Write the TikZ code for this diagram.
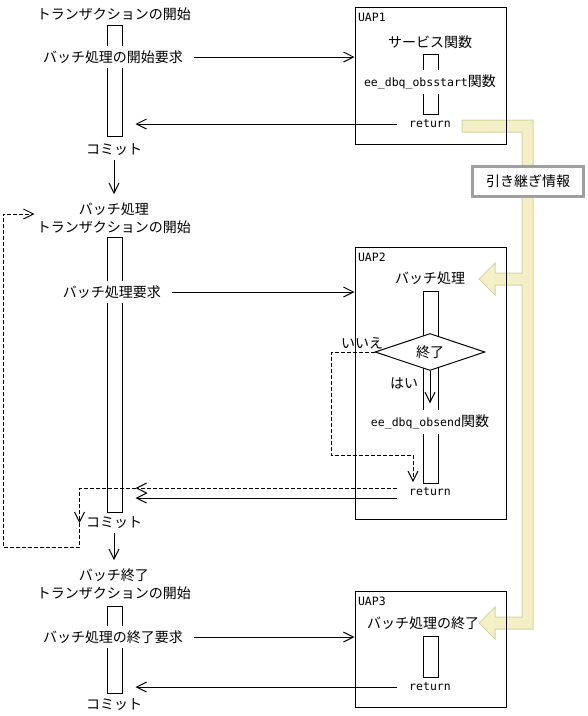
\documentclass[tikz,border=0pt]{standalone}
\usepackage{fontspec}
\setmainfont{Noto Sans CJK JP}
\newfontfamily\codefont{DejaVu Sans Mono}
\newcommand\code[1]{{\codefont\fontsize{11.5}{14}\selectfont #1}}
\usetikzlibrary{arrows.meta,shapes.geometric}
\definecolor{bandfill}{RGB}{242,240,196}
\definecolor{bandline}{RGB}{214,211,160}
\definecolor{memoline}{RGB}{160,160,160}

\begin{document}
\begin{tikzpicture}
	[x=1pt,y=-1pt,line width=1pt,
	>={Straight Barb[length=10pt,width=10pt]},
	every node/.style={font=\fontsize{14}{18}\selectfont,inner sep=2pt},
	gap/.style={fill=white,inner ysep=5pt},
	bar/.style={draw,minimum width=15pt,inner sep=0pt},
	uap/.style={draw,minimum width=151pt,inner sep=0pt},
	loop/.style={dash pattern=on 4pt off 2pt}]
	\useasboundingbox (0,0) rectangle (588,716);
	\fill[bandfill,draw=bandline] (462,120) -- (533,120) -- (533,629) -- (495,629) -- (495,639) -- (479,623)
		-- (495,607) -- (495,617) -- (522,617) -- (522,285) -- (495,285) -- (495,295) -- (479,279)
		-- (495,263) -- (495,273) -- (522,273) -- (522,132) -- (462,132) -- cycle;
	\node (head1) at (114,14) {トランザクションの開始};
	\node[bar,minimum height=111pt] (bar1) at (114.5,80.5) {};
	\node[gap] (req1) at (113,57) {バッチ処理の開始要求};
	\node (commit1) at (114,150) {コミット};
	\node[align=center] (head2) at (114,218) {バッチ処理\\トランザクションの開始};
	\node[bar,minimum height=275pt] (bar2) at (114.5,374.5) {};
	\node[gap] (req2) at (112,292) {バッチ処理要求};
	\node (commit2) at (114,523) {コミット};
	\node[align=center] (head3) at (114,584) {バッチ終了\\トランザクションの開始};
	\node[bar,minimum height=87pt] (bar3) at (114.5,649.5) {};
	\node[gap] (req3) at (113,637) {バッチ処理の終了要求};
	\node (commit3) at (114,705) {コミット};
	\node[uap,minimum height=137pt] (uap1) at (430.5,75.5) {};
	\node[anchor=north west] (uap1name) at ([shift={(1pt,-4pt)}]uap1.north west) {\code{UAP1}};
	\node (svc) at (430,42) {サービス関数};
	\node[bar,minimum height=60pt] (bar4) at (430.5,84) {};
	\node[gap] (fn1) at (430,82) {\code{ee\_dbq\_obsstart}関数};
	\node (ret1) at (430,124) {\code{return}};
	\node[uap,minimum height=272pt] (uap2) at (430.5,383) {};
	\node[anchor=north west] (uap2name) at ([shift={(1pt,-4pt)}]uap2.north west) {\code{UAP2}};
	\node (batch) at (430,278) {バッチ処理};
	\node[bar,minimum height=192pt] (bar5) at (430.5,387) {};
	\node[draw,diamond,aspect=3,fill=white,minimum width=110pt,minimum height=37pt,inner sep=0pt] (end) at (430,352) {終了};
	\node[gap] (fn2) at (430,422) {\code{ee\_dbq\_obsend}関数};
	\node (ret2) at (430,492) {\code{return}};
	\node (no) at (362,343) {いいえ};
	\node (yes) at (404,383) {はい};
	\node[uap,minimum height=116pt] (uap3) at (430.5,649) {};
	\node[anchor=north west] (uap3name) at ([shift={(1pt,-4pt)}]uap3.north west) {\code{UAP3}};
	\node (fin) at (423,623) {バッチ処理の終了};
	\node[bar,minimum height=41pt] (bar6) at (430.5,656.5) {};
	\node (ret3) at (430,687) {\code{return}};
	\node[draw=memoline,line width=3pt,fill=white,minimum width=111pt,minimum height=30pt] (memo) at (528,181.5) {引き継ぎ情報};
	\coordinate (nj) at (331,455);
	\coordinate (nk) at (413,482);
	\coordinate (lp) at (3,547);
	\draw[->] ([xshift=8pt]req1.east) -- (uap1.west |- req1);
	\draw[->] ([xshift=-10pt]ret1.west) -- ([xshift=13pt]bar1.east |- ret1);
	\draw[->] ([yshift=-2pt]commit1.south) -- ([yshift=6pt]head2.north);
	\draw[->] ([xshift=8pt]req2.east) -- (uap2.west |- req2);
	\draw[->] (end.south) -- ([yshift=6pt]fn2.north);
	\draw[loop,->] (end.west) -| (nj) -- (nj -| nk) -- (nk);
	\draw[loop,->] ([shift={(-10pt,4pt)}]ret2.west) -- ([shift={(13pt,4pt)}]bar2.east |- ret2.west);
	\draw[loop,->] ([shift={(13pt,4pt)}]bar2.east |- ret2.west) -| ([xshift=-4pt]commit2.west);
	\draw[loop,->] ([xshift=-4pt]commit2.west) |- (lp) |- ([yshift=4pt]head2.west);
	\draw[->] ([shift={(-10pt,-6pt)}]ret2.west) -- ([shift={(13pt,-6pt)}]bar2.east |- ret2.west);
	\draw[->] ([yshift=-2pt]commit2.south) -- ([yshift=6pt]head3.north);
	\draw[->] ([xshift=8pt]req3.east) -- (uap3.west |- req3);
	\draw[->] ([xshift=-10pt]ret3.west) -- ([xshift=13pt]bar3.east |- ret3);
\end{tikzpicture}
\end{document}
